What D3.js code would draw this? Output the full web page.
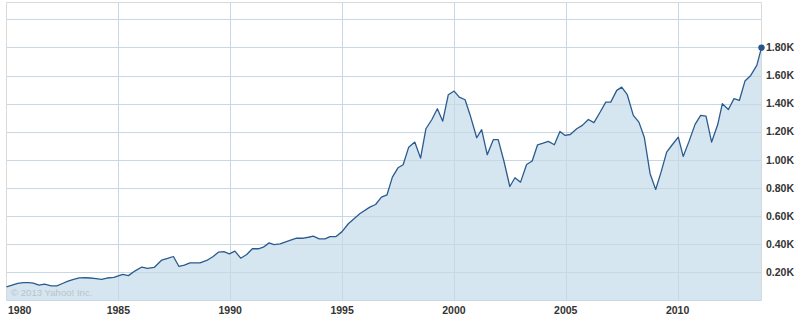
<!DOCTYPE html>
<html>
<head>
<meta charset="utf-8">
<style>
  body { margin: 0; background: #fff; }
  .ylab, .xlab { font-family: "Liberation Sans", Arial, sans-serif; font-weight: bold; font-size: 10.5px; fill: #333; }
</style>
</head>
<body>
<script src="https://d3js.org/d3.v7.min.js"></script>
<script>

// quarterly-ish samples (decimal year, value in thousands)
var years = [
  1980.00, 1980.25, 1980.50, 1980.75, 1981.00, 1981.20, 1981.45, 1981.70, 1982.00, 1982.25,
  1982.50, 1982.75, 1983.00, 1983.25, 1983.50, 1983.75, 1984.00, 1984.25, 1984.50, 1984.80,
  1985.00, 1985.20, 1985.45, 1985.75, 1986.05, 1986.30, 1986.60, 1986.94, 1987.20, 1987.46,
  1987.71, 1987.95, 1988.20, 1988.45, 1988.65, 1988.95, 1989.24, 1989.47, 1989.72, 1989.96,
  1990.21, 1990.47, 1990.74, 1990.99, 1991.26, 1991.48, 1991.74, 1991.96, 1992.23, 1992.45,
  1992.67, 1992.97, 1993.27, 1993.50, 1993.71, 1993.98, 1994.24, 1994.46, 1994.73, 1995.00,
  1995.28, 1995.79, 1996.24, 1996.50, 1996.76, 1997.01, 1997.25, 1997.50, 1997.73, 1997.98,
  1998.25, 1998.51, 1998.75, 1999.01, 1999.26, 1999.50, 1999.75, 2000.01, 2000.24, 2000.50,
  2000.72, 2001.02, 2001.24, 2001.49, 2001.76, 2001.98, 2002.24, 2002.50, 2002.73, 2002.98,
  2003.25, 2003.50, 2003.74, 2003.99, 2004.22, 2004.49, 2004.74, 2004.97, 2005.20, 2005.49,
  2005.74, 2006.01, 2006.26, 2006.52, 2006.79, 2007.01, 2007.28, 2007.50, 2007.75, 2008.02,
  2008.27, 2008.51, 2008.77, 2009.02, 2009.26, 2009.51, 2009.76, 2010.03, 2010.25, 2010.51,
  2010.78, 2011.03, 2011.27, 2011.52, 2011.79, 2012.00, 2012.27, 2012.52, 2012.76, 2013.01,
  2013.27, 2013.54, 2013.75
];
var values = [
  0.097, 0.110, 0.122, 0.127, 0.127, 0.124, 0.110, 0.116, 0.104, 0.104,
  0.121, 0.138, 0.150, 0.161, 0.162, 0.160, 0.156, 0.150, 0.160, 0.164,
  0.175, 0.186, 0.177, 0.211, 0.238, 0.228, 0.235, 0.288, 0.300, 0.313,
  0.242, 0.251, 0.268, 0.268, 0.268, 0.285, 0.313, 0.344, 0.347, 0.332,
  0.351, 0.301, 0.327, 0.368, 0.368, 0.379, 0.410, 0.398, 0.403, 0.415,
  0.427, 0.443, 0.443, 0.450, 0.458, 0.439, 0.439, 0.455, 0.455, 0.490,
  0.546, 0.617, 0.664, 0.683, 0.735, 0.752, 0.878, 0.944, 0.966, 1.091,
  1.127, 1.013, 1.222, 1.286, 1.364, 1.276, 1.464, 1.490, 1.447, 1.428,
  1.322, 1.158, 1.215, 1.037, 1.144, 1.144, 0.989, 0.811, 0.873, 0.842,
  0.967, 0.992, 1.108, 1.120, 1.132, 1.108, 1.203, 1.174, 1.181, 1.222,
  1.246, 1.288, 1.265, 1.336, 1.411, 1.411, 1.495, 1.518, 1.464, 1.317,
  1.269, 1.162, 0.902, 0.790, 0.913, 1.056, 1.108, 1.162, 1.025, 1.132,
  1.253, 1.317, 1.312, 1.127, 1.250, 1.400, 1.359, 1.436, 1.423, 1.561,
  1.601, 1.673, 1.799
];
var xTicks = [1980, 1985, 1990, 1995, 2000, 2005, 2010];
var yTicks = [0.2, 0.4, 0.6, 0.8, 1.0, 1.2, 1.4, 1.6, 1.8, 2.0];
var yLabels = ["0.20K", "0.40K", "0.60K", "0.80K", "1.00K", "1.20K", "1.40K", "1.60K", "1.80K", ""];

var data = years.map(function(d, i) { return {t: d, v: values[i]}; });

var W = 797, H = 317;
var plotL = 6.5, plotR = 761.5, plotT = 2.5, plotB = 300.5;

var svg = d3.select("body").append("svg")
    .attr("width", W)
    .attr("height", H);

var x = d3.scaleLinear()
    .domain([years[0], years[years.length - 1]])
    .range([plotL, plotR]);

var y = d3.scaleLinear()
    .domain([0, 2.12])
    .range([plotB, plotT]);

// area fill
var area = d3.area()
    .x(function(d) { return x(d.t); })
    .y0(plotB)
    .y1(function(d) { return y(d.v); });

svg.append("path")
    .datum(data)
    .attr("d", area)
    .style("fill", "#d6e6f1");

// grid
svg.selectAll(".hgrid")
    .data(yTicks)
  .enter().append("line")
    .attr("class", "hgrid")
    .attr("x1", plotL).attr("x2", plotR)
    .attr("y1", function(d) { return Math.round(y(d)) + 0.5; })
    .attr("y2", function(d) { return Math.round(y(d)) + 0.5; })
    .style("stroke", "#c7d7e3")
    .style("stroke-width", 1);

svg.selectAll(".vgrid")
    .data(xTicks.slice(1))
  .enter().append("line")
    .attr("class", "vgrid")
    .attr("x1", function(d) { return Math.round(x(d)) + 0.5; })
    .attr("x2", function(d) { return Math.round(x(d)) + 0.5; })
    .attr("y1", plotT).attr("y2", plotB)
    .style("stroke", "#c7d7e3")
    .style("stroke-width", 1);

// frame
svg.append("path")
    .attr("d", "M" + plotL + "," + plotB + "V" + plotT + "H" + plotR + "V" + plotB)
    .style("fill", "none")
    .style("stroke", "#d9d9d9");
svg.append("line")
    .attr("x1", plotL).attr("x2", plotR)
    .attr("y1", plotB).attr("y2", plotB)
    .style("stroke", "#c7d7e3");

// copyright
svg.append("text")
    .attr("x", 11)
    .attr("y", 296)
    .style("font-family", "Liberation Sans, Arial, sans-serif")
    .style("font-size", "9.6px")
    .style("fill", "#b9c3cb")
    .text("\u00a9 2013 Yahoo! Inc.");

// line
var line = d3.line()
    .x(function(d) { return x(d.t); })
    .y(function(d) { return y(d.v); });

svg.append("path")
    .datum(data)
    .attr("d", line)
    .style("fill", "none")
    .style("stroke", "#2b5b8e")
    .style("stroke-width", 1.3)
    .style("stroke-linejoin", "round");

var last = data[data.length - 1];
svg.append("circle")
    .attr("cx", x(last.t))
    .attr("cy", y(last.v))
    .attr("r", 3.2)
    .style("fill", "#24568b");

// y labels on the right
svg.selectAll(".ylab")
    .data(yTicks)
  .enter().append("text")
    .attr("class", "ylab")
    .attr("x", 766)
    .attr("y", function(d) { return y(d); })
    .attr("dy", "0.35em")
    .text(function(d, i) { return yLabels[i]; });

// x labels
svg.selectAll(".xlab")
    .data(xTicks)
  .enter().append("text")
    .attr("class", "xlab")
    .attr("x", function(d, i) { return i == 0 ? 8 : x(d); })
    .attr("y", 314)
    .style("text-anchor", function(d, i) { return i == 0 ? "start" : "middle"; })
    .text(function(d) { return d; });

</script>
</body>
</html>
